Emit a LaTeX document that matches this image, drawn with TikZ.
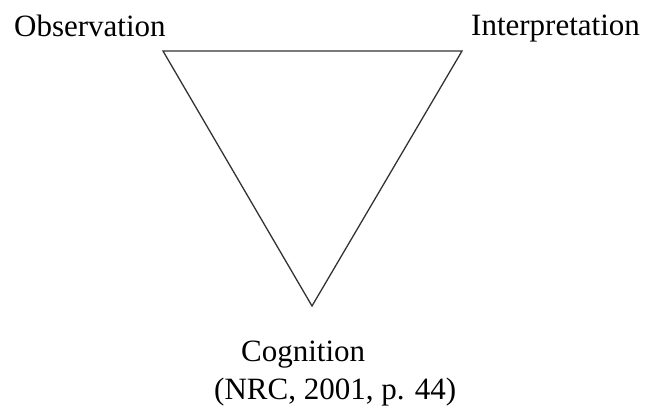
\documentclass[tikz,border=0pt]{standalone}
\usepackage{fontspec}
\setmainfont{Liberation Serif}
\begin{document}
\begin{tikzpicture}[x=1pt,y=-1pt,
  lbl/.style={anchor=base west,inner sep=0pt,font=\fontsize{31}{37}\selectfont},
  edge/.style={draw=black!80,line width=1.3pt,line join=miter}]
\useasboundingbox (0,0) rectangle (650,409);
\node[lbl] (obs) at (14,37) {Observation};
\node[lbl] (int) at (471,36) {Interpretation};
\node[lbl] (cog) at (241,361) {Cognition};
\node[lbl] (src) at (214,399) {(NRC, 2001, p. 44)};
\coordinate (tl) at (163,51);
\coordinate (tr) at (462,51);
\coordinate (bt) at (312,306);
\draw[edge] (tl) -- (tr) -- (bt) -- cycle;
\end{tikzpicture}
\end{document}
